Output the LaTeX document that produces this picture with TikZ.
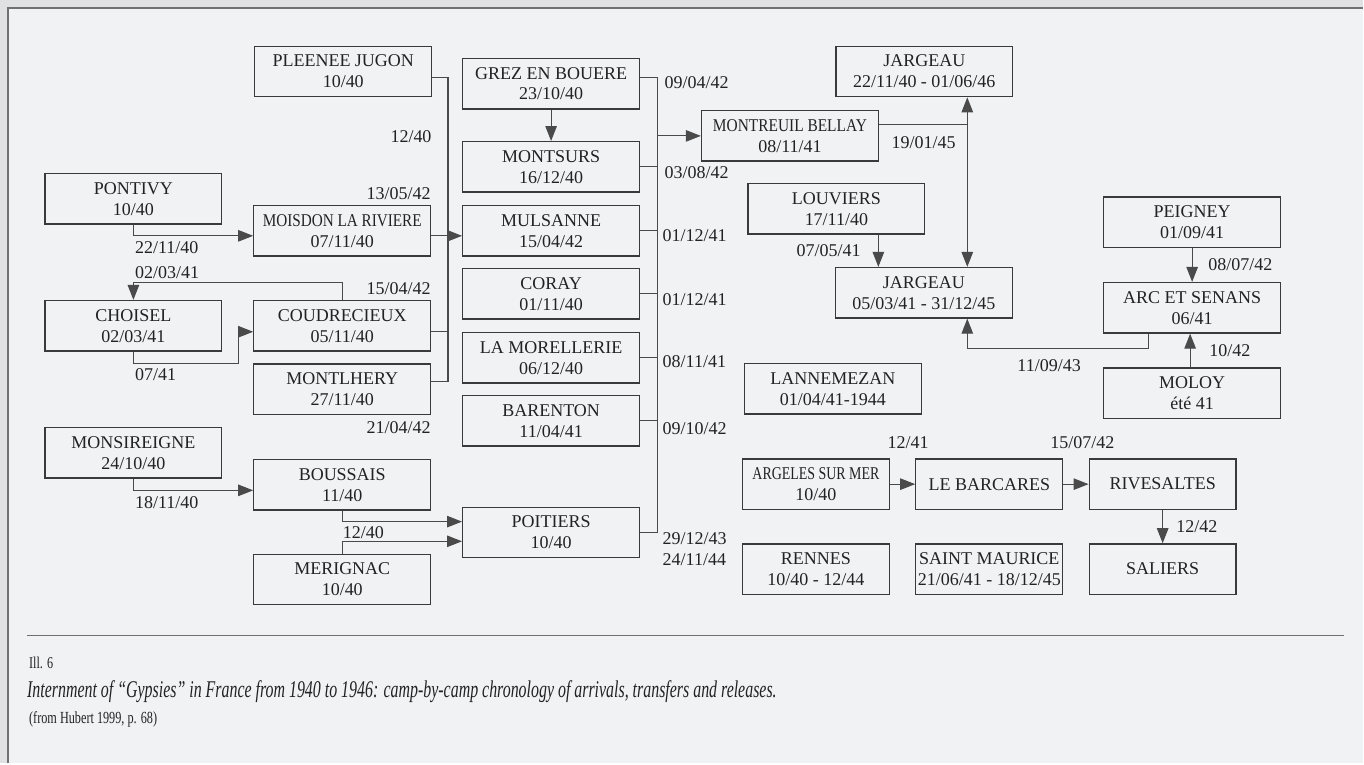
\documentclass[tikz,border=0pt]{standalone}
\usepackage{fontspec}
\usepackage{graphicx}
\setmainfont{Liberation Serif}
\usetikzlibrary{arrows.meta,calc}
\definecolor{bgout}{HTML}{E0E1E3}
\definecolor{bgin}{HTML}{F1F2F4}
\definecolor{framecol}{HTML}{707070}
\definecolor{boxline}{HTML}{3A3A3A}
\definecolor{conncol}{HTML}{4A4A4A}
\definecolor{txt}{HTML}{222222}
\begin{document}
\begin{tikzpicture}[x=1pt,y=-1pt,
 camp/.style={draw=boxline, line width=1.3pt, minimum width=177pt, minimum height=50.5pt, align=center, inner sep=0pt, text=txt, font=\fontsize{18}{21}\selectfont},
 campn/.style={camp, minimum width=147pt},
 lab/.style={inner sep=0pt, text=txt, font=\fontsize{18}{21}\selectfont},
 conn/.style={draw=conncol, line width=1.1pt},
 arr/.style={conn, -{Triangle[length=15pt,width=11.5pt]}},
 arrb/.style={conn, {Triangle[length=15pt,width=11.5pt]}-{Triangle[length=15pt,width=11.5pt]}},
]
\fill[bgout] (0,0) rectangle (1364,764);
\fill[bgin] (8,8) rectangle (1364,764);
\draw[framecol, line width=2pt] (8,764) -- (8,8) -- (1364,8);
\useasboundingbox (0,0) rectangle (1364,764);

% left column
\node[camp] (pleenee) at (343.5,71.5) {PLEENEE JUGON\\10/40};
\node[camp] (pontivy) at (133.5,199) {PONTIVY\\10/40};
\node[camp] (moisdon) at (342.5,231) {\resizebox{159pt}{\height}{MOISDON LA RIVIERE}\\07/11/40};
\node[camp] (choisel) at (133.5,326) {CHOISEL\\02/03/41};
\node[camp] (coud) at (342.5,326) {COUDRECIEUX\\05/11/40};
\node[camp] (montlhery) at (342.5,389.5) {MONTLHERY\\27/11/40};
\node[camp] (monsi) at (133.5,453) {MONSIREIGNE\\24/10/40};
\node[camp] (boussais) at (342.5,485) {BOUSSAIS\\11/40};
\node[camp] (merignac) at (342.5,580) {MERIGNAC\\10/40};

% centre column
\node[camp] (grez) at (551.5,83.7) {GREZ EN BOUERE\\23/10/40};
\node[camp] (montsurs) at (551.5,167) {MONTSURS\\16/12/40};
\node[camp] (mulsanne) at (551.5,231) {MULSANNE\\15/04/42};
\node[camp] (coray) at (551.5,294) {CORAY\\01/11/40};
\node[camp] (lamor) at (551.5,358) {LA MORELLERIE\\06/12/40};
\node[camp] (barenton) at (551.5,421) {BARENTON\\11/04/41};
\node[camp] (poitiers) at (551.5,533) {POITIERS\\10/40};

% right part
\node[camp] (jargeauA) at (925,71.5) {JARGEAU\\22/11/40 - 01/06/46};
\node[camp] (montreuil) at (790.5,136) {\resizebox{154pt}{\height}{MONTREUIL BELLAY}\\08/11/41};
\node[camp] (louviers) at (837,209) {LOUVIERS\\17/11/40};
\node[camp] (jargeauB) at (924.5,293) {JARGEAU\\05/03/41 - 31/12/45};
\node[camp] (peigney) at (1193,222.5) {PEIGNEY\\01/09/41};
\node[camp] (arc) at (1193,308) {ARC ET SENANS\\06/41};
\node[camp] (moloy) at (1193,393.5) {MOLOY\\été 41};
\node[camp] (lanne) at (833.5,389) {LANNEMEZAN\\01/04/41-1944};
\node[campn] (argeles) at (816.5,484.5) {\resizebox{127pt}{\height}{ARGELES SUR MER}\\10/40};
\node[campn] (barcares) at (990,484.5) {LE BARCARES};
\node[campn] (rivesaltes) at (1163.5,484.5) {RIVESALTES};
\node[campn] (rennes) at (816.5,569.5) {RENNES\\10/40 - 12/44};
\node[campn] (stmaurice) at (990,569.5) {SAINT MAURICE\\21/06/41 - 18/12/45};
\node[campn] (saliers) at (1163.5,569.5) {SALIERS};

% helper coordinates
\coordinate (tk) at (448.3,0);
\coordinate (ct) at (657.7,0);
\coordinate (jx) at (968,0);
\coordinate (lx) at (879,0);
\coordinate (ax) at (1149,0);
\coordinate (c1) at (239,364);
\coordinate (a2) at (1149,349);
\coordinate (ple) at ([yshift=-6pt]pleenee.east);
\coordinate (mh) at ([yshift=7.5pt]montlhery.east);
\coordinate (cd) at ([yshift=-6pt]coud.east);
\coordinate (gz) at ([yshift=6pt]grez.east);
\coordinate (mb) at ([yshift=11.3pt]montreuil.east);

% left connectors
\draw[arr] (pontivy.south) |- ([yshift=-5pt]moisdon.west);
\draw[conn] (ple) -| (tk |- mh) -- (mh);
\draw[conn] (cd) -- (tk |- cd);
\draw[arr] ([yshift=-5pt]moisdon.east) -- ([yshift=-5pt]mulsanne.west);
\draw[arr] (coud.north) -- ++(0,-17) -| (choisel.north);
\draw[arr] (choisel.south) |- (c1) |- ([yshift=-6pt]coud.west);
\draw[arr] (monsi.south) |- ([yshift=-5.7pt]boussais.west);
\draw[arr] (boussais.south) |- ([yshift=11pt]poitiers.west);
\draw[arr] (merignac.north) |- ([yshift=-8.7pt]poitiers.west);

% centre connectors
\draw[arr] (grez.south) -- (montsurs.north);
\draw[conn] (gz) -| (ct |- poitiers.east) -- (poitiers.east);
\draw[conn] (montsurs.east) -- (ct |- montsurs.east);
\draw[conn] (mulsanne.east) -- (ct |- mulsanne.east);
\draw[conn] (coray.east) -- (ct |- coray.east);
\draw[conn] (lamor.east) -- (ct |- lamor.east);
\draw[conn] (barenton.east) -- (ct |- barenton.east);
\draw[arr] (ct |- montreuil.west) -- (montreuil.west);

% right connectors
\draw[conn] (mb) -- (jx |- mb);
\draw[arrb] (jx |- jargeauA.south) -- (jx |- jargeauB.north);
\draw[arr] (lx |- louviers.south) -- (lx |- jargeauB.north);
\draw[arr] (peigney.south) -- (arc.north);
\draw[arr] ([xshift=-2pt]moloy.north) -- ([xshift=-2pt]arc.south);
\draw[arr] (ax |- arc.south) -- (a2) -| (jx |- jargeauB.south);
\draw[arr] (argeles.east) -- (barcares.west);
\draw[arr] (barcares.east) -- (rivesaltes.west);
\draw[arr] (rivesaltes.south) -- (saliers.north);

% labels
\node[lab, anchor=east] (l1) at (432,137) {12/40};
\node[lab, anchor=east] (l2) at (431,194) {13/05/42};
\node[lab, anchor=west] (l3) at (135,248) {22/11/40};
\node[lab, anchor=west] (l4) at (135,273) {02/03/41};
\node[lab, anchor=east] (l5) at (431,289) {15/04/42};
\node[lab, anchor=west] (l6) at (135,375) {07/41};
\node[lab, anchor=east] (l7) at (431,428) {21/04/42};
\node[lab, anchor=west] (l8) at (135,503) {18/11/40};
\node[lab, anchor=west] (l9) at (343,532.7) {12/40};
\node[lab, anchor=west] (l10) at (665,83) {09/04/42};
\node[lab, anchor=west] (l11) at (665,173) {03/08/42};
\node[lab, anchor=west] (l12) at (663,236) {01/12/41};
\node[lab, anchor=west] (l13) at (663,300) {01/12/41};
\node[lab, anchor=west] (l14) at (663,362) {08/11/41};
\node[lab, anchor=west] (l15) at (663,429) {09/10/42};
\node[lab, anchor=west] (l16) at (663,539) {29/12/43};
\node[lab, anchor=west] (l17) at (663,560) {24/11/44};
\node[lab, anchor=west] (l18) at (892,143) {19/01/45};
\node[lab, anchor=west] (l19) at (797,251) {07/05/41};
\node[lab, anchor=west] (l20) at (1209,265) {08/07/42};
\node[lab, anchor=west] (l21) at (1210,351) {10/42};
\node[lab, anchor=west] (l22) at (1018,366) {11/09/43};
\node[lab, anchor=west] (l23) at (888,443) {12/41};
\node[lab, anchor=west] (l24) at (1051,443) {15/07/42};
\node[lab, anchor=west] (l25) at (1177,527) {12/42};

% caption
\draw[framecol, line width=1pt] (27,635.7) -- (1345,635.7);
\node[inner sep=0pt, anchor=west, text=txt] (ill) at (29,663.5) {\resizebox{24pt}{\height}{\fontsize{16.5}{19}\selectfont Ill. 6}};
\node[inner sep=0pt, anchor=west, text=txt] (cap) at (27,692) {\resizebox{750pt}{\height}{\fontsize{24}{28}\selectfont\itshape Internment of “Gypsies” in France from 1940 to 1946: camp-by-camp chronology of arrivals, transfers and releases.}};
\node[inner sep=0pt, anchor=west, text=txt] (src) at (29,720) {\resizebox{128pt}{\height}{\fontsize{17}{20}\selectfont (from Hubert 1999, p. 68)}};
\end{tikzpicture}
\end{document}
